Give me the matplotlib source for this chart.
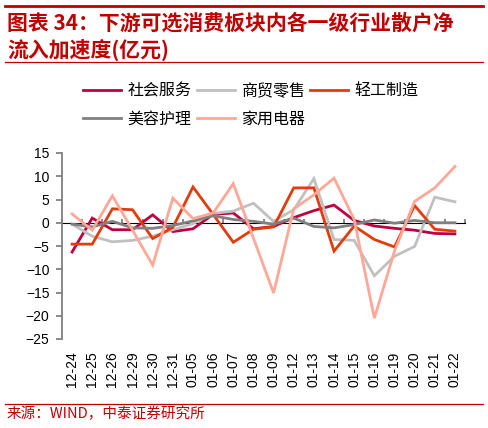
import matplotlib
matplotlib.use("Agg")
import matplotlib.pyplot as plt
from matplotlib.lines import Line2D
import numpy as np

plt.rcParams['font.family'] = ['Liberation Sans', 'Noto Sans CJK SC', 'DejaVu Sans']

dates = ["12-24", "12-25", "12-26", "12-29", "12-30", "12-31", "01-05", "01-06",
         "01-07", "01-08", "01-09", "01-12", "01-13", "01-14", "01-15", "01-16",
         "01-19", "01-20", "01-21", "01-22"]

social = [-6.3, 1.0, -1.5, -1.5, 1.7, -1.9, -1.3, 1.8, 2.1, -1.3, -0.8, 1.1, 2.6, 3.8, 0.5, -0.7, -1.2, -1.6, -2.3, -2.4]
retail = [-0.3, -2.9, -4.1, -3.8, -2.9, -1.5, -0.2, 2.0, 2.5, 4.2, 0.3, 2.8, 9.5, -3.6, -3.8, -11.4, -7.2, -5.1, 5.5, 4.5]
light_ind = [-4.6, -4.6, 3.0, 2.8, -3.4, -1.0, 7.7, 1.8, -4.2, -1.4, -0.9, 7.5, 7.5, -6.1, -0.7, -3.6, -5.2, 3.7, -1.4, -1.8]
beauty = [-0.3, -0.9, 0.3, -1.1, -1.2, -0.6, 0.4, 1.5, 0.7, 0.3, -0.3, 1.0, -0.8, -1.1, -0.4, 0.6, -0.1, 0.5, 0.0, 0.0]
appliance = [1.9, -1.6, 5.8, -1.6, -9.1, 5.3, 0.9, 2.1, 8.4, -3.3, -15.1, 3.0, 6.0, 9.6, 0.7, -20.5, -6.1, 4.6, 7.5, 12.1]

series = [("社会服务", social, "#BE0040"),
          ("商贸零售", retail, "#C0C0C0"),
          ("轻工制造", light_ind, "#E33C0C"),
          ("美容护理", beauty, "#808080"),
          ("家用电器", appliance, "#FFA898")]

W, H = 488, 428
fig = plt.figure(figsize=(W / 100, H / 100), dpi=100)
ax = fig.add_axes([62 / W, 1 - 339 / H, (465 - 62) / W, (339 - 153) / H])

x = np.arange(len(dates))
handles = []
for name, vals, col in series:
    h, = ax.plot(x, vals, color=col, lw=2.0, label=name, solid_joinstyle='miter')
    handles.append(h)

ax.set_xlim(-0.5, len(dates) - 0.5)
ax.set_ylim(-25, 15)
ax.set_yticks(np.arange(-25, 16, 5))
for s in ['top', 'right', 'bottom']:
    ax.spines[s].set_visible(False)
ax.spines['left'].set_color('#808080')
ax.spines['left'].set_linewidth(1.3)
ax.tick_params(axis='y', direction='out', length=4, width=1.3, color='#808080',
               labelsize=10, pad=5)
ax.set_xticks(x)
ax.set_xticklabels(dates, rotation=90, fontsize=10)
ax.tick_params(axis='x', length=0, pad=9)

# zero axis with boundary ticks
zero_pos = (0 - (-25)) / 40.0
sec = ax.secondary_xaxis(zero_pos)
sec.set_xticks(np.arange(-0.5, len(dates), 1.0))
sec.set_xticklabels([])
sec.spines['bottom'].set_color('#808080')
sec.spines['bottom'].set_linewidth(1.5)
sec.tick_params(axis='x', direction='out', length=3, width=1.3, color='#808080')
sec.set_zorder(0)

# legend (row-major order: fill columns so rows read in series order)
order = [0, 3, 1, 4, 2]
leg = fig.legend(handles=[handles[i] for i in order], loc='upper left', ncol=3,
                 bbox_to_anchor=(83 / W, 1 - 83 / H), frameon=False,
                 handlelength=2.4, handletextpad=0.4,
                 columnspacing=0.3, labelspacing=0.65, borderpad=0, borderaxespad=0,
                 prop={'family': ['Noto Sans CJK SC'], 'size': 11.5})

red = '#C00000'
fig.text(7 / W, 1 - 22.7 / H, "图表 34：下游可选消费板块内各一级行业散户净",
         color=red, fontsize=15, fontweight='bold', va='center', ha='left',
         family=['Noto Sans CJK SC', 'DejaVu Sans'])
fig.text(7 / W, 1 - 50 / H, "流入加速度(亿元)",
         color=red, fontsize=15, fontweight='bold', va='center', ha='left',
         family=['Noto Sans CJK SC', 'DejaVu Sans'])
fig.text(7 / W, 1 - 414 / H, "来源：WIND，中泰证券研究所",
         color=red, fontsize=10.5, va='center', ha='left',
         family=['Noto Sans CJK SC', 'DejaVu Sans'])

fig.add_artist(Line2D([5 / W, 483 / W], [1 - 6 / H, 1 - 6 / H], color=red, lw=2.0))
fig.add_artist(Line2D([5 / W, 483 / W], [1 - 62 / H, 1 - 62 / H], color=red, lw=0.9))
fig.add_artist(Line2D([5 / W, 483 / W], [1 - 404 / H, 1 - 404 / H], color=red, lw=0.9))

fig.savefig("out.png", dpi=100)
